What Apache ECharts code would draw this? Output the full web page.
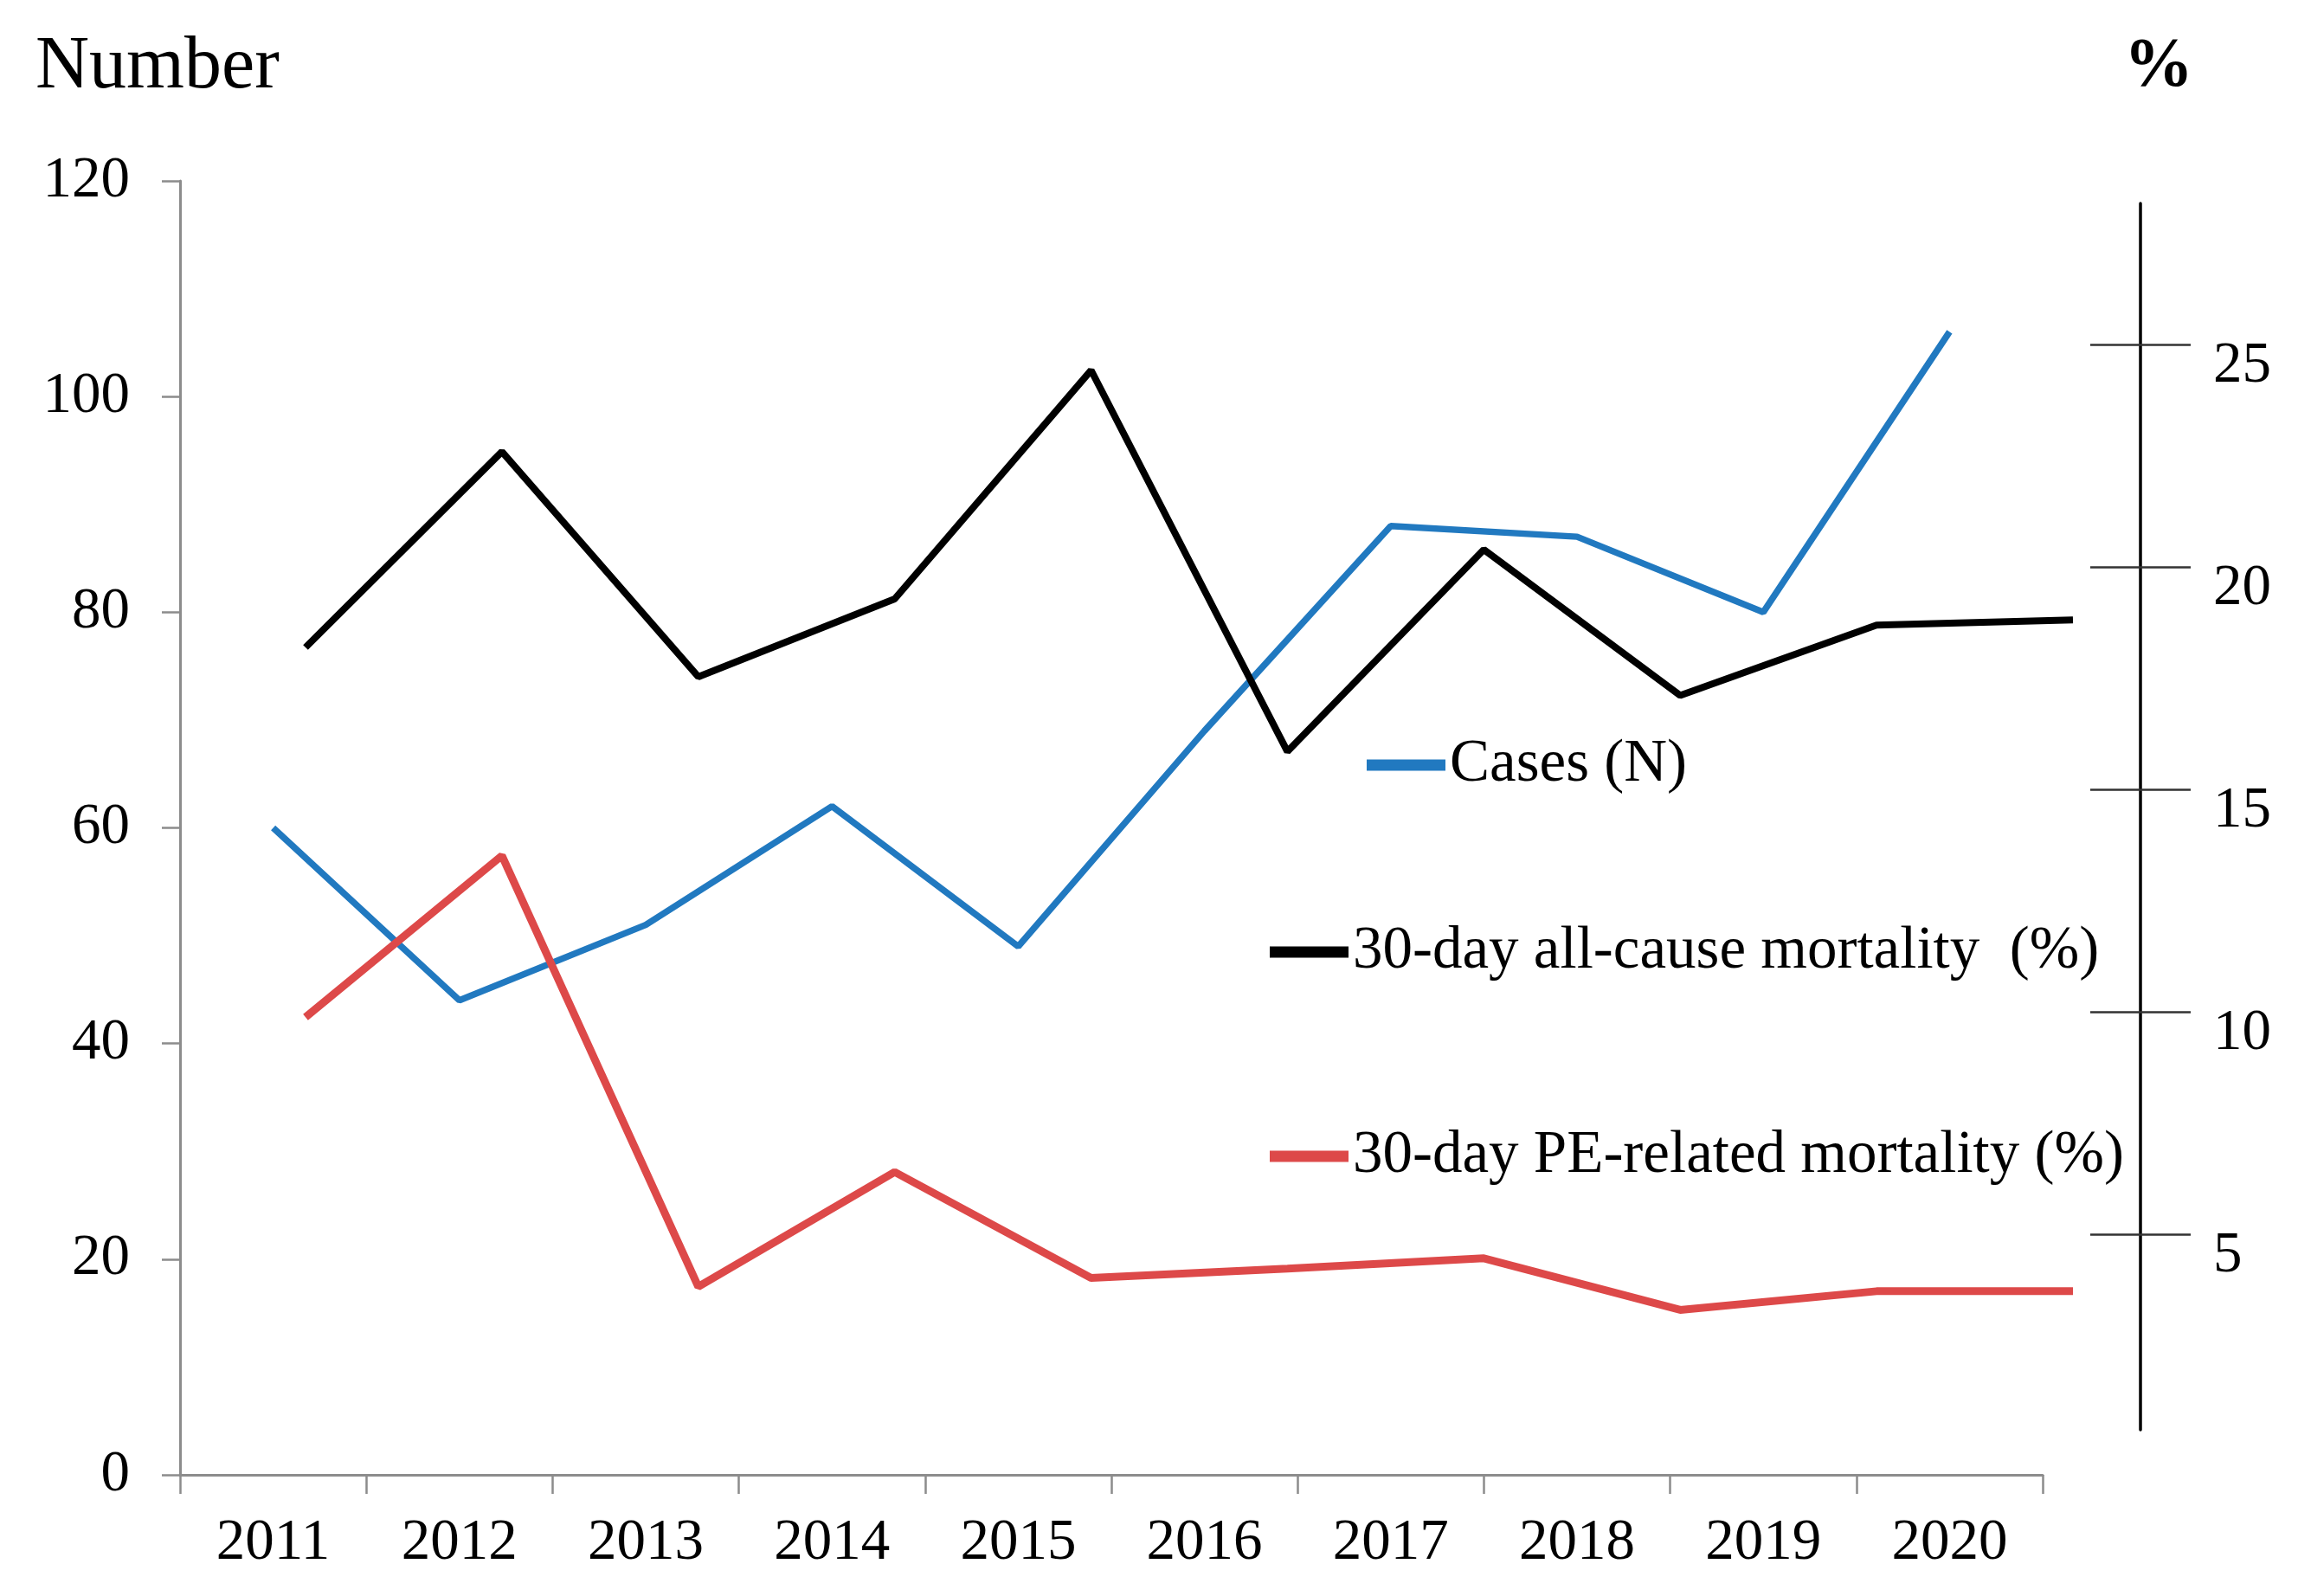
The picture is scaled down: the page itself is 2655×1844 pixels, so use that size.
<!DOCTYPE html>
<html>
<head>
<meta charset="utf-8">
<script src="https://cdn.jsdelivr.net/npm/echarts@6/dist/echarts.min.js"></script>
<style>
  html, body { margin: 0; padding: 0; background: #fff; }
  #chart { width: 2655px; height: 1844px; }
</style>
</head>
<body>
<div id="chart"></div>
<script>
// ---- data ----
const years = ['2011', '2012', '2013', '2014', '2015', '2016', '2017', '2018', '2019', '2020'];
const cases = [60, 44, 51, 62, 49, 69, 88, 87, 80, 106];                                   // Number (left axis)
const allCauseMortality = [18.2, 22.6, 17.54, 19.29, 24.43, 15.86, 20.4, 17.12, 18.7, 18.82]; // % (right axis)
const peRelatedMortality = [9.89, 13.52, 3.83, 6.41, 4.03, 4.24, 4.47, 3.31, 3.73, 3.73];     // % (right axis)
const rightTicks = [5, 10, 15, 20, 25];
const seriesNames = ['Cases (N)', '30-day all-cause mortality  (%)', '30-day PE-related mortality (%)'];

const FONT = 'Liberation Serif';
const BLUE = '#2179C0';
const BLACK = '#000000';
const RED = '#DD4949';
const GRAY = '#8c8c8c';

const chart = echarts.init(document.getElementById('chart'));

const rightMin = 0.615, rightMax = 28.18;

const legendCommon = {
  orient: 'horizontal',
  icon: 'rect',
  itemWidth: 91,
  itemHeight: 13,
  padding: 0,
  selectedMode: false,
  textStyle: { fontFamily: FONT, fontSize: 69, lineHeight: 70, color: '#000' }
};

chart.setOption({
  animation: false,
  backgroundColor: '#fff',
  title: [
    { text: 'Number', left: 41, top: 35, padding: 0,
      textStyle: { fontFamily: FONT, fontSize: 86, lineHeight: 86, fontWeight: 'normal', color: '#000' } },
    { text: '%', left: 2454, top: 38, padding: 0,
      textStyle: { fontFamily: FONT, fontSize: 80, lineHeight: 80, fontWeight: 'bold', color: '#000' } }
  ],
  legend: [
    Object.assign({ data: [seriesNames[0]], left: 1579, top: 849 }, legendCommon),
    Object.assign({ data: [seriesNames[1]], left: 1467, top: 1065 }, legendCommon),
    Object.assign({ data: [seriesNames[2]], left: 1467, top: 1301 }, legendCommon)
  ],
  grid: [
    { left: 208, right: 295, top: 209, bottom: 140 },
    { left: 353, right: 260, top: 235, bottom: 192 }
  ],
  xAxis: [
    {
      type: 'category', gridIndex: 0, data: years, boundaryGap: true,
      axisLine: { show: true, lineStyle: { color: GRAY, width: 3 } },
      axisTick: { show: true, length: 22, lineStyle: { color: GRAY, width: 2.5 } },
      axisLabel: { fontFamily: FONT, fontSize: 67, color: '#000', margin: 46 },
      splitLine: { show: false }
    },
    {
      type: 'category', gridIndex: 1, data: years, boundaryGap: false, show: false
    }
  ],
  yAxis: [
    {
      type: 'value', gridIndex: 0, min: 0, max: 120, interval: 20,
      axisLine: { show: true, lineStyle: { color: GRAY, width: 3 } },
      axisTick: { show: true, length: 21, lineStyle: { color: GRAY, width: 2.5 } },
      axisLabel: { fontFamily: FONT, fontSize: 67, color: '#000', margin: 58 },
      splitLine: { show: false }
    },
    {
      type: 'value', gridIndex: 1, position: 'right', offset: 78,
      min: rightMin, max: rightMax,
      axisLine: { show: true, lineStyle: { color: '#000', width: 3.5 } },
      axisTick: { show: true, length: 58, customValues: rightTicks, lineStyle: { color: '#333', width: 2.5 } },
      axisLabel: { customValues: rightTicks, fontFamily: FONT, fontSize: 67, color: '#000', margin: 84,
                   verticalAlign: 'top', lineHeight: 50 },
      splitLine: { show: false }
    },
    {
      type: 'value', gridIndex: 1, position: 'right', offset: 78,
      min: rightMin, max: rightMax,
      axisLine: { show: false },
      axisTick: { show: true, inside: true, length: 58, customValues: rightTicks, lineStyle: { color: '#333', width: 2.5 } },
      axisLabel: { show: false },
      splitLine: { show: false }
    }
  ],
  series: [
    {
      name: seriesNames[0], type: 'line', xAxisIndex: 0, yAxisIndex: 0,
      data: cases, symbol: 'none',
      lineStyle: { color: BLUE, width: 7.5 }, itemStyle: { color: BLUE }
    },
    {
      name: seriesNames[1], type: 'line', xAxisIndex: 1, yAxisIndex: 1,
      data: allCauseMortality, symbol: 'none',
      lineStyle: { color: BLACK, width: 8 }, itemStyle: { color: BLACK }
    },
    {
      name: seriesNames[2], type: 'line', xAxisIndex: 1, yAxisIndex: 1,
      data: peRelatedMortality, symbol: 'none',
      lineStyle: { color: RED, width: 9 }, itemStyle: { color: RED }
    }
  ]
});
</script>
</body>
</html>
